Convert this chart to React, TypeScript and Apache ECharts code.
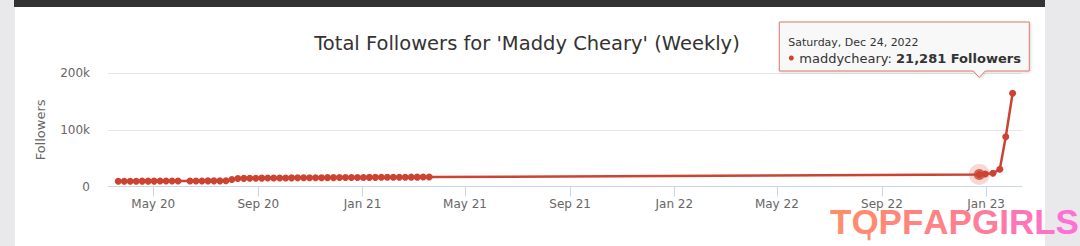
import React, { useEffect, useRef } from "react";
import * as echarts from "echarts";

// ---- data ----
const EARLY_DATES = [
  "2020-03-21", "2020-03-28", "2020-04-04", "2020-04-11", "2020-04-18", "2020-04-25",
  "2020-05-02", "2020-05-09", "2020-05-16", "2020-05-23", "2020-05-30", "2020-06-13",
  "2020-06-20", "2020-06-27", "2020-07-04", "2020-07-11", "2020-07-18", "2020-07-25",
  "2020-08-01", "2020-08-08", "2020-08-15", "2020-08-22", "2020-08-29", "2020-09-05",
  "2020-09-12", "2020-09-19", "2020-09-26", "2020-10-03", "2020-10-10", "2020-10-17",
  "2020-10-24", "2020-10-31", "2020-11-07", "2020-11-14", "2020-11-21", "2020-11-28",
  "2020-12-05", "2020-12-12", "2020-12-19", "2020-12-26", "2021-01-02", "2021-01-09",
  "2021-01-16", "2021-01-23", "2021-01-30", "2021-02-06", "2021-02-13", "2021-02-20",
  "2021-02-27", "2021-03-06", "2021-03-13", "2021-03-20",
];
const EARLY_FOLLOWERS = [
  9210, 9280, 9340, 9390, 9450, 9480,
  9530, 9590, 9620, 9680, 9720, 9770,
  9800, 9860, 9900, 9950, 9990, 10040,
  12400, 14100, 14400, 14550, 14700, 14800,
  14900, 15000, 15100, 15150, 15250, 15300,
  15400, 15450, 15500, 15600, 15650, 15700,
  15800, 15850, 15900, 15950, 16000, 16100,
  16150, 16200, 16250, 16300, 16400, 16450,
  16500, 16550, 16650, 16700,
];
const LATE_DATES = ["2022-12-24", "2022-12-31", "2023-01-09", "2023-01-17", "2023-01-24", "2023-02-01"];
const LATE_FOLLOWERS = [21281, 22100, 23300, 30400, 88000, 164700];

const HIGHLIGHT_DATE = "2022-12-24";
const HIGHLIGHT_VALUE = 21281;
const HIGHLIGHT_HEADER = "Saturday, Dec 24, 2022";
const SERIES_NAME = "maddycheary";

const X_MIN = "2020-03-09";
const X_MAX = "2023-02-12";
const X_TICK_DATES = [
  "2020-05-01", "2020-09-01", "2021-01-01", "2021-05-01", "2021-09-01",
  "2022-01-01", "2022-05-01", "2022-09-01", "2023-01-01",
];
const X_TICK_LABELS = ["May 20", "Sep 20", "Jan 21", "May 21", "Sep 21", "Jan 22", "May 22", "Sep 22", "Jan 23"];
const Y_TICKS = [0, 100000, 200000];
const Y_TICK_LABELS = ["0", "100k", "200k"];

const TITLE = "Total Followers for 'Maddy Cheary' (Weekly)";
const Y_NAME = "Followers";
const WATERMARK = "TOPFAPGIRLS";
const WATERMARK_COLORS = [
  "#ff8d6c", "#ff8a70", "#ff8876", "#ff857c", "#ff8284", "#ff7f8e",
  "#ff7c9a", "#ff79a8", "#ff76b6", "#ff73c4", "#ff70d2",
];

const RED = "#cd4331";
const FONT = "'DejaVu Sans', sans-serif";

const ts = (d: string) => Date.parse(d);

export default function App() {
  const ref = useRef<HTMLDivElement>(null);

  useEffect(() => {
    if (!ref.current) return;
    const chart = echarts.init(ref.current, undefined, { renderer: "svg" });

    const lineData: [number, number][] = [];
    EARLY_DATES.forEach((d, i) => lineData.push([ts(d), EARLY_FOLLOWERS[i]]));
    LATE_DATES.forEach((d, i) => lineData.push([ts(d), LATE_FOLLOWERS[i]]));
    const tickTs = X_TICK_DATES.map(ts);
    const hl: [number, number] = [ts(HIGHLIGHT_DATE), HIGHLIGHT_VALUE];

    const titleGraphic = {
      type: "text",
      x: 527,
      y: 43,
      style: {
        text: TITLE,
        fill: "#333333",
        fontSize: 19.5,
        fontFamily: FONT,
        textAlign: "center",
        textVerticalAlign: "middle",
      },
    };

    chart.setOption({
      animation: false,
      grid: { left: 108, right: 58, top: 73.3, bottom: 59.5, containLabel: false },
      xAxis: {
        type: "value",
        min: ts(X_MIN),
        max: ts(X_MAX),
        axisLine: { show: true, lineStyle: { color: "#ccd6eb", width: 1 } },
        axisTick: { show: true, customValues: tickTs, length: 10, lineStyle: { color: "#ccd6eb" } },
        axisLabel: {
          customValues: tickTs,
          color: "#666666",
          fontSize: 12,
          fontFamily: FONT,
          margin: 11,
          showMinLabel: true,
          showMaxLabel: true,
          formatter: (v: number) => {
            const i = tickTs.indexOf(v);
            return i >= 0 ? X_TICK_LABELS[i] : "";
          },
        },
        splitLine: { show: false },
      },
      yAxis: {
        type: "value",
        min: 0,
        max: 200000,
        interval: 100000,
        name: Y_NAME,
        nameLocation: "middle",
        nameGap: 61,
        nameRotate: 90,
        nameTextStyle: { color: "#666666", fontSize: 13, fontFamily: FONT },
        axisLine: { show: false },
        axisTick: { show: false },
        axisLabel: {
          color: "#666666",
          fontSize: 12,
          fontFamily: FONT,
          margin: 18,
          formatter: (v: number) => {
            const i = Y_TICKS.indexOf(v);
            return i >= 0 ? Y_TICK_LABELS[i] : "";
          },
        },
        splitLine: { show: true, lineStyle: { color: "#e6e6e6", width: 1 } },
      },
      series: [
        {
          type: "line",
          name: SERIES_NAME,
          data: lineData,
          color: RED,
          lineStyle: { color: RED, width: 2.5 },
          symbol: "circle",
          symbolSize: 7,
          showSymbol: true,
          showAllSymbol: true,
          itemStyle: { color: RED },
          z: 2,
        },
        {
          type: "scatter",
          data: [hl],
          symbolSize: 21,
          itemStyle: { color: "rgba(205,67,49,0.25)" },
          z: 3,
        },
        {
          type: "scatter",
          data: [hl],
          symbolSize: 11,
          itemStyle: { color: RED },
          z: 4,
        },
      ],
      graphic: [titleGraphic],
    });

    const p = chart.convertToPixel({ gridIndex: 0 }, hl) as number[];
    const px = p[0];
    const left = px - 200;
    const right = px + 50;
    const top = 22;
    const bottom = 71;
    const tipY = 77.5;

    const wmRich: Record<string, any> = {};
    WATERMARK.split("").forEach((_, i) => {
      wmRich["c" + i] = {
        fill: WATERMARK_COLORS[i],
        fontSize: 35,
        fontWeight: "bold",
        fontFamily: "'Liberation Sans', Arial, sans-serif",
      };
    });
    const wmText = WATERMARK.split("").map((ch, i) => `{c${i}|${ch}}`).join("");

    chart.setOption({
      graphic: [
        titleGraphic,
        {
          type: "polygon",
          z: 100,
          shape: {
            points: [
              [left, top], [right, top], [right, bottom], [px + 6, bottom],
              [px, tipY], [px - 6, bottom], [left, bottom],
            ],
          },
          style: {
            fill: "rgba(249,249,249,0.95)",
            stroke: "#d9786b",
            lineWidth: 1,
            shadowBlur: 3,
            shadowOffsetX: 1,
            shadowOffsetY: 1,
            shadowColor: "rgba(0,0,0,0.15)",
          },
        },
        {
          type: "text",
          z: 101,
          x: left + 9,
          y: 42,
          style: {
            text: HIGHLIGHT_HEADER,
            fill: "#333333",
            fontSize: 11,
            fontFamily: FONT,
            textVerticalAlign: "middle",
          },
        },
        {
          type: "circle",
          z: 101,
          shape: { cx: left + 12, cy: 58, r: 2.5 },
          style: { fill: RED },
        },
        {
          type: "text",
          z: 101,
          x: left + 20,
          y: 58,
          style: {
            text: `{n|${SERIES_NAME}: }{b|${HIGHLIGHT_VALUE.toLocaleString("en-US")} Followers}`,
            fill: "#333333",
            fontSize: 13,
            fontFamily: FONT,
            textVerticalAlign: "middle",
            rich: {
              n: { fontSize: 13, fontFamily: FONT, fill: "#333333" },
              b: { fontSize: 13, fontFamily: FONT, fontWeight: "bold", fill: "#333333" },
            },
          },
        },
        {
          type: "text",
          z: 200,
          x: 830,
          y: 221,
          style: {
            text: wmText,
            fontSize: 35,
            fontWeight: "bold",
            fontFamily: "'Liberation Sans', Arial, sans-serif",
            textVerticalAlign: "middle",
            rich: wmRich,
          },
        },
        {
          type: "line",
          z: 199,
          shape: { x1: 869, y1: 232, x2: 869, y2: 239 },
          style: { stroke: WATERMARK_COLORS[1], lineWidth: 3, lineCap: "round" },
        },
      ],
    });

    return () => chart.dispose();
  }, []);

  return (
    <div style={{ position: "absolute", left: 0, top: 0, width: 1080, height: 246, background: "#e9e9ec", overflow: "hidden" }}>
      <div style={{ position: "absolute", left: 15, top: 0, width: 1030, height: 246, background: "#ffffff" }} />
      <div style={{ position: "absolute", left: 14, top: 0, width: 1031, height: 7, background: "#333333" }} />
      <div ref={ref} style={{ position: "absolute", left: 0, top: 0, width: 1080, height: 246 }} />
    </div>
  );
}
